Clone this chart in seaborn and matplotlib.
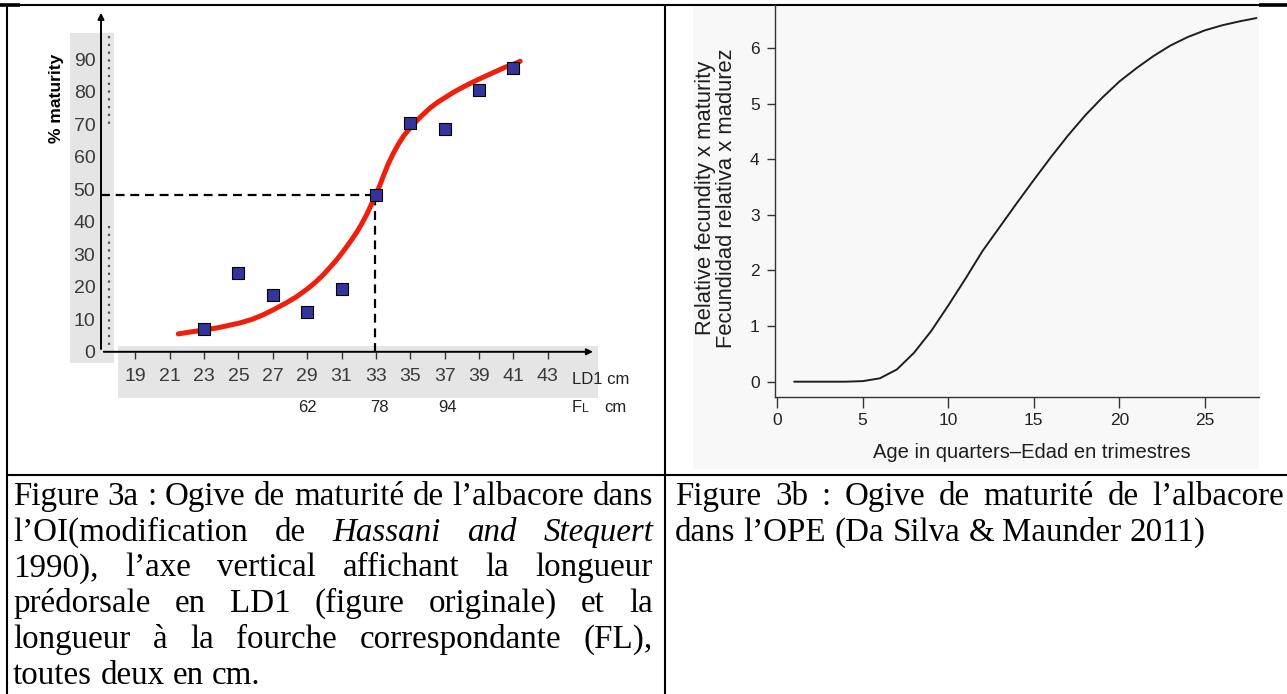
import matplotlib
matplotlib.use("Agg")
import matplotlib.pyplot as plt
from matplotlib.patches import Rectangle
from matplotlib import font_manager as fm
import seaborn as sns
import pandas as pd

# ---------------- data ----------------
# Figure 3a : maturity ogive (LD1 in cm vs % maturity)
ld1_points = [23, 25, 27, 29, 31, 33, 35, 37, 39, 41]
pct_points = [7.1, 24.3, 17.4, 12.3, 19.2, 48.1, 70.5, 68.7, 80.6, 87.3]

curve_ld1 = [21.5, 22.2, 23.0, 23.8, 24.5, 25.1, 25.8, 26.45, 27.2, 27.8, 28.4, 29.05,
             29.5, 29.94, 30.3, 30.7, 31.1, 31.5, 31.9, 32.2, 32.47, 32.7, 32.95, 33.2,
             33.43, 33.7, 34.0, 34.3, 34.6, 35.04, 35.6, 36.15, 36.6, 37.14, 37.6,
             38.09, 38.5, 38.96, 39.5, 40.0, 40.5, 41.06, 41.4]
curve_pct = [5.5, 6.1, 6.7, 7.4, 8.2, 8.9, 10.0, 11.4, 13.4, 15.1, 17.0, 19.5,
             21.5, 23.7, 25.8, 28.2, 30.9, 33.8, 36.9, 39.6, 42.3, 44.9, 47.7, 50.8,
             54.0, 57.6, 60.9, 63.8, 66.3, 69.2, 72.3, 75.0, 76.8, 78.6, 80.1,
             81.5, 82.6, 83.8, 85.1, 86.3, 87.5, 88.6, 89.4]

l50_ld1 = 32.95
l50_pct = 48.2

ld1_ticks = [19, 21, 23, 25, 27, 29, 31, 33, 35, 37, 39, 41, 43]
pct_ticks = [0, 10, 20, 30, 40, 50, 60, 70, 80, 90]
fl_ld1 = [29, 33.2, 37.2]
fl_labels = ["62", "78", "94"]

# Figure 3b : relative fecundity x maturity by age in quarters
age_quarters = list(range(1, 29))
rel_fecundity = [0, 0, 0, 0, 0.01, 0.06, 0.22, 0.52, 0.91, 1.37, 1.85, 2.35, 2.78, 3.21,
                 3.63, 4.04, 4.43, 4.79, 5.11, 5.40, 5.64, 5.86, 6.05, 6.20, 6.32, 6.41,
                 6.48, 6.54]
age_ticks = [0, 5, 10, 15, 20, 25]
fec_ticks = [0, 1, 2, 3, 4, 5, 6]

caption_left = [
    [("Figure", "normal"), ("3a", "normal"), (":", "normal"), ("Ogive", "normal"), ("de", "normal"),
     ("maturité", "normal"), ("de", "normal"), ("l’albacore", "normal"), ("dans", "normal")],
    [("l’OI(modification", "normal"), ("de", "normal"), ("Hassani", "italic"), ("and", "italic"),
     ("Stequert", "italic")],
    [("1990),", "normal"), ("l’axe", "normal"), ("vertical", "normal"), ("affichant", "normal"),
     ("la", "normal"), ("longueur", "normal")],
    [("prédorsale", "normal"), ("en", "normal"), ("LD1", "normal"), ("(figure", "normal"),
     ("originale)", "normal"), ("et", "normal"), ("la", "normal")],
    [("longueur", "normal"), ("à", "normal"), ("la", "normal"), ("fourche", "normal"),
     ("correspondante", "normal"), ("(FL),", "normal")],
    [("toutes", "normal"), ("deux", "normal"), ("en", "normal"), ("cm.", "normal")],
]
caption_right = [
    [("Figure", "normal"), ("3b", "normal"), (":", "normal"), ("Ogive", "normal"), ("de", "normal"),
     ("maturité", "normal"), ("de", "normal"), ("l’albacore", "normal")],
    [("dans", "normal"), ("l’OPE", "normal"), ("(Da", "normal"), ("Silva", "normal"), ("&", "normal"),
     ("Maunder", "normal"), ("2011)", "normal")],
]

# ---------------- style ----------------
sns.set_theme(style="white")
plt.rcParams["font.family"] = ["Liberation Sans", "DejaVu Sans"]


def has_font(name):
    try:
        fm.findfont(fm.FontProperties(family=name), fallback_to_default=False)
        return True
    except Exception:
        return False


SANS = "Liberation Sans"
SERIF = "Liberation Serif" if has_font("Liberation Serif") else "DejaVu Serif"

W, H = 1287, 694
fig = plt.figure(figsize=(W / 100, H / 100), dpi=100)
fig.patch.set_facecolor("white")

# background axes in pixel coordinates (table, captions, scan tint)
bg = fig.add_axes([0, 0, 1, 1], zorder=0)
bg.set_xlim(0, W)
bg.set_ylim(H, 0)
bg.axis("off")

# scanned-figure grey areas (left panel)
bg.add_patch(Rectangle((70, 33), 44, 330, color="#e5e5e5", lw=0))
bg.add_patch(Rectangle((118, 346), 480, 52, color="#e5e5e5", lw=0))
bg.plot([108.5, 108.5], [36, 128], color="#555555", lw=1.6, ls=(0, (1, 2.5)))
bg.plot([108.5, 108.5], [226, 346], color="#555555", lw=1.6, ls=(0, (1, 2.5)))
# right image background
bg.add_patch(Rectangle((693, 5), 1259 - 693, 469 - 5, color="#f8f8f8", lw=0))

# table lines
lk = dict(color="black", lw=1.5, solid_capstyle="butt")
bg.plot([0, W], [5, 5], **lk)
bg.plot([0, 20], [5, 5], color="black", lw=2.6, solid_capstyle="butt")
bg.plot([1259, W], [5, 5], color="black", lw=2.6, solid_capstyle="butt")
bg.plot([7, 7], [5, H], **lk)
bg.plot([665, 665], [5, H], **lk)
bg.plot([7, W], [475, 475], **lk)

# ---------------- Figure 3a ----------------
ax1 = fig.add_axes([101 / W, 1 - 351.8 / H, 497 / W, 341.8 / H], zorder=2)
ax1.set_facecolor("none")
ax1.set_xlim(17, 17 + 497 / 17.18)
ax1.set_ylim(0, 341.8 / 3.25)
for s in ax1.spines.values():
    s.set_visible(False)

ax1.plot([17, l50_ld1], [l50_pct, l50_pct], color="black", lw=1.6, ls=(0, (4, 2.6)), zorder=3)
ax1.plot([l50_ld1, l50_ld1], [0, l50_pct], color="black", lw=1.6, ls=(0, (4, 2.6)), zorder=3)

df_curve = pd.DataFrame({"ld1": curve_ld1, "pct": curve_pct})
sns.lineplot(data=df_curve, x="ld1", y="pct", ax=ax1, color="#f01e0a", lw=3.6,
             sort=False, estimator=None, zorder=4)
df_pts = pd.DataFrame({"ld1": ld1_points, "pct": pct_points})
sns.scatterplot(data=df_pts, x="ld1", y="pct", ax=ax1, marker="s", s=85,
                color="#34349c", edgecolor="black", linewidth=0.8, zorder=5)

ax1.annotate("", xy=(17, 341.8 / 3.25), xytext=(17, 0),
             arrowprops=dict(arrowstyle="-|>", lw=1.4, color="black", mutation_scale=9),
             annotation_clip=False)
ax1.annotate("", xy=(45.8, 0), xytext=(17, 0),
             arrowprops=dict(arrowstyle="-|>", lw=1.4, color="black", mutation_scale=9),
             annotation_clip=False)

ax1.set_xticks(ld1_ticks)
ax1.set_xticklabels([str(v) for v in ld1_ticks], fontfamily=SANS, fontsize=14,
                    color="#3a3a3a")
ax1.set_yticks(pct_ticks)
ax1.set_yticklabels([str(v) for v in pct_ticks], fontfamily=SANS, fontsize=14,
                    color="#3a3a3a")
ax1.tick_params(axis="x", bottom=True, direction="out", length=5, width=1, color="#333333", pad=7)
ax1.tick_params(axis="y", left=False, length=0, pad=4)
ax1.set_xlabel("")
ax1.set_ylabel("")

for x, lab in zip(fl_ld1, fl_labels):
    ax1.text(x, -17, lab, ha="center", va="center", fontsize=12, color="#222222", clip_on=False)

bg.text(572, 379, "LD1 cm", ha="left", va="center", fontsize=12, color="#222222")
bg.text(572, 407, "F", ha="left", va="center", fontsize=12, color="#222222")
bg.text(582, 409, "L", ha="left", va="center", fontsize=9, color="#222222")
bg.text(604, 407, "cm", ha="left", va="center", fontsize=12, color="#222222")
bg.text(57, 98, "% maturity", rotation=90, ha="center", va="center", fontsize=12.5,
        fontweight="bold", color="black")

# ---------------- Figure 3b ----------------
ax2 = fig.add_axes([775 / W, 1 - 396.7 / H, 484 / W, 391.7 / H], zorder=2)
ax2.set_facecolor("none")
df_fec = pd.DataFrame({"age": age_quarters, "fec": rel_fecundity})
sns.lineplot(data=df_fec, x="age", y="fec", ax=ax2, color="#1e1e1e", lw=1.4)
ax2.set_xlim(-0.12, 28.15)
ax2.set_ylim(-0.27, (396.7 - 5) / 55.6 - 0.27)
for side in ["top", "right"]:
    ax2.spines[side].set_visible(False)
for side in ["left", "bottom"]:
    ax2.spines[side].set_color("#333333")
    ax2.spines[side].set_linewidth(1.0)
ax2.set_xticks(age_ticks)
ax2.set_xticklabels([str(v) for v in age_ticks], fontfamily=SANS, fontsize=12.5,
                    color="#222222")
ax2.set_yticks(fec_ticks)
ax2.set_yticklabels([str(v) for v in fec_ticks], fontfamily=SANS, fontsize=12.5,
                    color="#222222")
ax2.tick_params(axis="x", bottom=True, direction="out", length=8, width=1, color="#333333", pad=4)
ax2.tick_params(axis="y", left=True, direction="out", length=6, width=1, color="#333333", pad=5)
ax2.set_xlabel("Age in quarters–Edad en trimestres", fontfamily=SANS, fontsize=14.5,
               color="#1e1e1e")
ax2.xaxis.set_label_coords((1032 - 775) / 484, (396.7 - 452) / 391.7)
ax2.xaxis.label.set_va("center")
ax2.set_ylabel("Relative fecundity x maturity\nFecundidad relativa x madurez",
               fontsize=15.8, color="#1e1e1e", linespacing=1.05)
ax2.yaxis.set_label_coords((716 - 775) / 484, (396.7 - 198) / 391.7)
ax2.yaxis.label.set_va("center")

# ---------------- captions (justified) ----------------
renderer = fig.canvas.get_renderer()


def word_width(s, size, style):
    t = bg.text(0, 0, s, fontsize=size, family=SERIF, style=style)
    w = t.get_window_extent(renderer).width
    t.remove()
    return w


def space_width(size):
    return word_width("a a", size, "normal") - word_width("aa", size, "normal")


ref = 20.0
first = caption_left[0]
nat = sum(word_width(w, ref, st) for w, st in first) + (len(first) - 1) * space_width(ref)
CAP_SIZE = ref * (653 - 13) / nat


def draw_caption(lines, x0, x1, y0, dy):
    sp = space_width(CAP_SIZE)
    for i, words in enumerate(lines):
        y = y0 + i * dy
        widths = [word_width(w, CAP_SIZE, st) for w, st in words]
        last = i == len(lines) - 1
        if last or len(words) == 1:
            gap = sp
        else:
            gap = (x1 - x0 - sum(widths)) / (len(words) - 1)
        x = x0
        for (w, st), wd in zip(words, widths):
            bg.text(x, y, w, fontsize=CAP_SIZE, family=SERIF, style=st, ha="left",
                    va="baseline", color="black", zorder=3)
            x += wd + gap


draw_caption(caption_left, 13, 653, 505, 35.7)
draw_caption(caption_right, 675, 1284, 505, 35.7)

fig.savefig("out.png", dpi=100)
